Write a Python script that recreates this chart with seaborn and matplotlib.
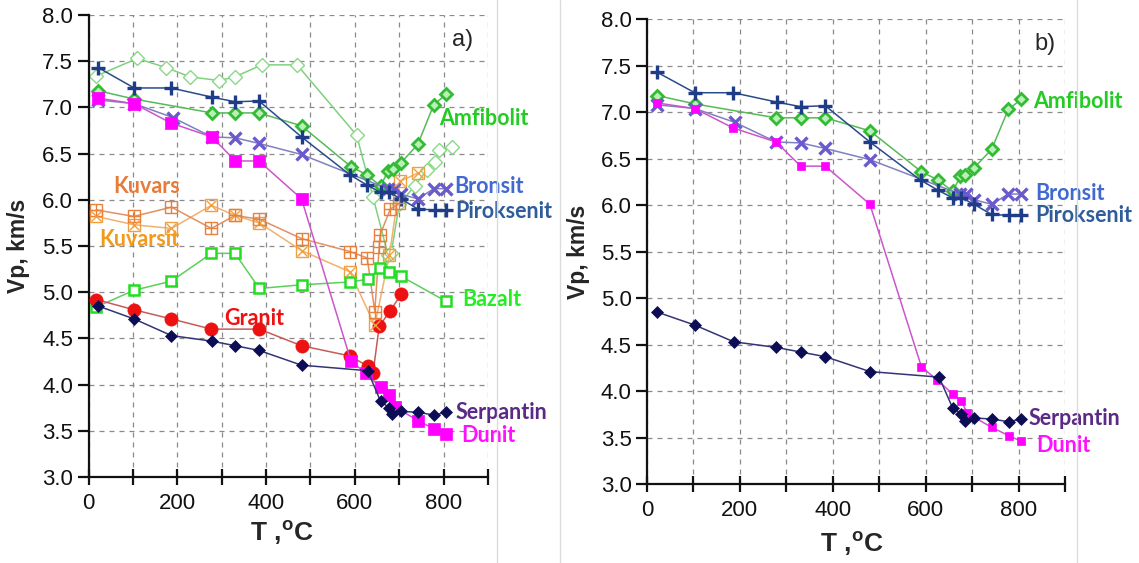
import matplotlib
matplotlib.use("Agg")
import matplotlib.pyplot as plt
from matplotlib.lines import Line2D
from matplotlib.ticker import FixedLocator
import seaborn as sns
import pandas as pd

sns.set_style("ticks")
plt.rcParams["font.family"] = ["Liberation Sans", "DejaVu Sans"]
plt.rcParams["mathtext.fontset"] = "custom"
plt.rcParams["mathtext.rm"] = "Liberation Sans"
plt.rcParams["mathtext.bf"] = "Liberation Sans:bold"

# ---- measured P-wave velocities (T in °C, Vp in km/s) ----
T_pirok = [22, 103, 186, 279, 331, 384, 480, 589, 627, 658, 677, 704, 742, 780, 806]
V_pirok = [7.43, 7.21, 7.21, 7.11, 7.06, 7.07, 6.68, 6.27, 6.16, 6.08, 6.08, 6.01, 5.90, 5.89, 5.89]

T_amf = [22, 103, 278, 331, 384, 480, 591, 627, 658, 675, 685, 704, 742, 778, 806]
V_amf = [7.18, 7.09, 6.94, 6.94, 6.94, 6.80, 6.36, 6.27, 6.15, 6.31, 6.33, 6.40, 6.60, 7.03, 7.14]

T_amf2 = [18, 110, 175, 229, 295, 330, 390, 470, 604, 641, 675, 682, 700, 735, 762, 780, 790, 818]
V_amf2 = [7.34, 7.53, 7.43, 7.33, 7.29, 7.33, 7.46, 7.46, 6.70, 6.03, 5.40, 5.42, 5.95, 6.15, 6.32, 6.41, 6.54, 6.57]

T_bron = [22, 103, 190, 278, 331, 384, 480, 674, 688, 704, 742, 778, 806]
V_bron = [7.08, 7.04, 6.89, 6.68, 6.67, 6.61, 6.49, 6.12, 6.12, 6.06, 6.01, 6.12, 6.12]

T_dun = [22, 103, 186, 278, 331, 384, 480, 591, 625, 658, 677, 690, 742, 779, 806]
V_dun = [7.10, 7.04, 6.83, 6.68, 6.42, 6.42, 6.01, 4.26, 4.12, 3.97, 3.89, 3.76, 3.61, 3.52, 3.46]

T_serp = [22, 103, 187, 278, 331, 384, 480, 629, 658, 677, 684, 704, 742, 779, 806]
V_serp = [4.85, 4.71, 4.53, 4.47, 4.42, 4.37, 4.21, 4.15, 3.82, 3.75, 3.68, 3.71, 3.70, 3.67, 3.70]

T_kuvars = [18, 102, 187, 277, 330, 385, 480, 589, 628, 645, 655, 657, 680, 700]
V_kuvars = [5.89, 5.82, 5.92, 5.69, 5.83, 5.79, 5.58, 5.44, 5.37, 4.79, 5.49, 5.62, 5.90, 5.96]

T_kuvarsit = [18, 102, 187, 277, 330, 385, 480, 589, 645, 678, 702, 743]
V_kuvarsit = [5.82, 5.73, 5.69, 5.94, 5.83, 5.75, 5.45, 5.22, 4.64, 5.40, 6.20, 6.29]

T_bazalt = [18, 102, 187, 277, 330, 385, 480, 589, 629, 657, 678, 705, 806]
V_bazalt = [4.84, 5.02, 5.12, 5.42, 5.42, 5.04, 5.08, 5.11, 5.14, 5.26, 5.22, 5.17, 4.90]

T_granit = [18, 102, 187, 277, 385, 480, 589, 629, 641, 655, 680, 705]
V_granit = [4.92, 4.81, 4.71, 4.60, 4.60, 4.42, 4.31, 4.20, 4.12, 4.63, 4.80, 4.98]

x_ticks = [0, 100, 200, 300, 400, 500, 600, 700, 800, 900]
x_ticklabels = ["0", "", "200", "", "400", "", "600", "", "800", ""]
y_ticks = [3.0, 3.5, 4.0, 4.5, 5.0, 5.5, 6.0, 6.5, 7.0, 7.5, 8.0]

fig = plt.figure(figsize=(11.39, 5.63), dpi=100)
ax_a = fig.add_axes([0.0777, 0.1528, 0.3507, 0.8206])
ax_b = fig.add_axes([0.5680, 0.1403, 0.3670, 0.8254])


def series(ax, T, V, line_color, marker, ms, mfc, mec, mew, lw=1.1, z=3):
    df = pd.DataFrame({"T": T, "Vp": V})
    sns.lineplot(data=df, x="T", y="Vp", ax=ax, color=line_color, linewidth=lw,
                 marker=marker, markersize=ms, markerfacecolor=mfc,
                 markeredgecolor=mec, markeredgewidth=mew,
                 estimator=None, sort=False, zorder=z)


def overlay(ax, T, V, marker, ms, color, mew, z=4):
    df = pd.DataFrame({"T": T, "Vp": V})
    sns.lineplot(data=df, x="T", y="Vp", ax=ax, color=color, linewidth=0,
                 marker=marker, markersize=ms, markeredgecolor=color,
                 markeredgewidth=mew, estimator=None, sort=False, zorder=z)


def style_axes(ax):
    ax.set_xlim(0, 900)
    ax.set_ylim(3.0, 8.0)
    ax.xaxis.set_major_locator(FixedLocator(x_ticks))
    ax.set_xticklabels(x_ticklabels)
    ax.yaxis.set_major_locator(FixedLocator(y_ticks))
    ax.set_yticklabels([f"{v:.1f}" for v in y_ticks])
    ax.grid(True, color="#8a8a8a", linestyle=(0, (4, 4)), linewidth=0.9)
    ax.set_axisbelow(True)
    for s in ("top", "right"):
        ax.spines[s].set_visible(False)
    for s in ("left", "bottom"):
        ax.spines[s].set_linewidth(1.6)
        ax.spines[s].set_color("#111111")
    ax.tick_params(axis="x", direction="inout", length=11, width=1.6,
                   labelsize=16, pad=6, colors="#111111")
    ax.tick_params(axis="y", direction="out", length=8, width=1.6,
                   labelsize=16, pad=3, colors="#111111")
    ax.set_xlabel(r"T ,$^{\mathbf{o}}$C", fontsize=19, fontweight="bold")
    ax.set_ylabel("Vp, km/s", fontsize=16.5, fontweight="bold")


LBL = dict(fontsize=15.5, fontweight="bold", family=["Lato", "DejaVu Sans"],
           va="center", ha="left")

# ---------------- panel a ----------------
ax = ax_a
series(ax, T_amf2, V_amf2, "#7fd07f", "D", 7.5, "white", "#8ad88a", 1.0, z=2)
series(ax, T_kuvarsit, V_kuvarsit, "#f2b070", "s", 8, "none", "#f0a040", 1.0)
overlay(ax, T_kuvarsit, V_kuvarsit, "x", 6.5, "#f0a040", 1.0)
series(ax, T_kuvars, V_kuvars, "#e39063", "s", 8, "none", "#e8803a", 1.0)
overlay(ax, T_kuvars, V_kuvars, "+", 8, "#e8803a", 1.0)
series(ax, T_bazalt, V_bazalt, "#5ccf5c", "s", 7, "white", "#22dd22", 1.8)
series(ax, T_granit, V_granit, "#c85a5a", "o", 9.5, "#ee1111", "#ee1111", 0.5)
series(ax, T_amf, V_amf, "#55bb55", "D", 6, "#b8f0b8", "#33bb33", 2.0)
series(ax, T_bron, V_bron, "#8080c0", "x", 8.5, "#6a5acd", "#6a5acd", 2.4)
series(ax, T_pirok, V_pirok, "#2b4a8b", "+", 10, "#1f3c88", "#1f3c88", 2.4)
series(ax, T_dun, V_dun, "#cc55cc", "s", 8.5, "#ff00ff", "#ff00ff", 0.5)
series(ax, T_serp, V_serp, "#333377", "D", 6, "#0d0d55", "#0d0d55", 0.5)
style_axes(ax)
ax.yaxis.set_label_coords(-0.146, 0.5)
ax.xaxis.set_label_coords(0.484, -0.090)

ax.text(843, 7.73, "a)", fontsize=17, ha="center", va="center")
ax.text(790, 6.885, "Amfibolit", color="#22cc22", **LBL)
ax.text(823, 6.14, "Bronsit", color="#4169cf", **LBL)
ax.text(826, 5.87, "Piroksenit", color="#2f5d9a", **LBL)
ax.text(55, 6.14, "Kuvars", color="#e87a3a", **LBL)
ax.text(24, 5.565, "Kuvarsit", color="#f29a1a", **LBL)
ax.text(843, 4.92, "Bazalt", color="#22ee22", **LBL)
ax.text(305, 4.72, "Granit", color="#ee1111", **LBL)
ax.text(826, 3.70, "Serpantin", color="#5b2a86", **LBL)
ax.text(839, 3.45, "Dunit", color="#ff11ff", **LBL)

# ---------------- panel b ----------------
ax = ax_b
series(ax, T_amf, V_amf, "#55bb55", "D", 6.5, "#b8f0b8", "#33bb33", 2.0)
series(ax, T_bron, V_bron, "#8080c0", "x", 8.5, "#6a5acd", "#6a5acd", 2.4)
series(ax, T_pirok, V_pirok, "#2b4a8b", "+", 10, "#1f3c88", "#1f3c88", 2.4)
series(ax, T_dun, V_dun, "#cc55cc", "s", 6, "#ff00ff", "#ff00ff", 0.5)
series(ax, T_serp, V_serp, "#333377", "D", 6, "#0d0d55", "#0d0d55", 0.5)
style_axes(ax)
ax.yaxis.set_label_coords(-0.136, 0.5)
ax.xaxis.set_label_coords(0.49, -0.097)

ax.text(858, 7.73, "b)", fontsize=17, ha="center", va="center")
ax.text(831, 7.12, "Amfibolit", color="#22cc22", **LBL)
ax.text(837, 6.13, "Bronsit", color="#4169cf", **LBL)
ax.text(837, 5.885, "Piroksenit", color="#2f5d9a", **LBL)
ax.text(822, 3.70, "Serpantin", color="#5b2a86", **LBL)
ax.text(839, 3.41, "Dunit", color="#ff11ff", **LBL)

# thin frames separating the two panels
for xpix in (497, 560, 1077):
    fig.add_artist(Line2D([xpix / 1139, xpix / 1139], [0, 1],
                          color="#dcdcdc", linewidth=1.0))

fig.savefig("out.png", dpi=100)
